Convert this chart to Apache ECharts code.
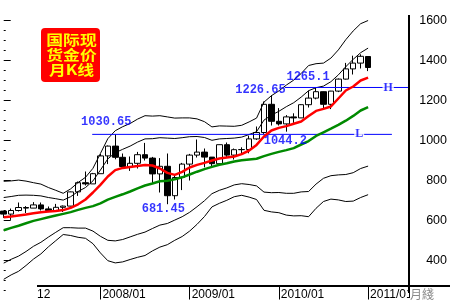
<!DOCTYPE html>
<html><head><meta charset="utf-8">
<script src="https://cdn.jsdelivr.net/npm/echarts@6/dist/echarts.min.js"></script>
<style>html,body{margin:0;padding:0;background:#fff}#c{width:450px;height:300px}</style>
</head><body><div id="c"></div>
<script>
// month categories 2006/12 .. 2011/06 (data 2006/12 .. 2011/01)
const months = [];
(function(){let y=2006,m=12;for(let k=0;k<55;k++){months.push(y+'/'+(m<10?'0'+m:m));m++;if(m>12){m=1;y++;}}})();
const xTickLabels = ['2008/01','2009/01','2010/01','2011/01'];

const open  = [647,632,650,665,662,678,658,650,666,672,743,789,783,834,923,972,916,870,886,929,912,833,871,724,815,882,927,942,917,884,979,927,954,955,1008,1040,1181,1096,1083,1118,1113,1179,1212,1244,1181,1247,1307,1358,1387,1420];
const close = [632,650,665,662,678,658,650,666,672,743,789,783,834,923,972,916,870,886,929,912,833,871,724,815,882,927,942,917,884,979,927,954,955,1008,1040,1181,1096,1083,1118,1113,1179,1212,1244,1181,1247,1307,1358,1387,1421,1365];
const high  = [648,660,690,672,692,690,670,683,675,745,795,845,838,933,975,1030.65,935,920,943,988,918,912,935,830,888,933,1005,960,917,980,990,960,966,1024,1070,1195,1226.65,1162,1127,1136,1181,1249,1265.1,1245,1248,1310,1388,1424,1431,1421];
const low   = [613,603,645,637,662,650,642,648,642,670,723,775,783,834,882,906,863,848,860,900,786,740,681.45,705,752,800,915,866,865,880,914,905,931,936,1003,1033,1075,1075,1044.2,1088,1113,1165,1206,1155,1157,1242,1305,1330,1360,1347];

const maRed   = [616,620,625,630,636,641,645,648,652,663,681,705,740,778,820,852,863,868,872,877,875,860,838,828,843,865,878,888,900,910,915,920,932,950,978,1020,1050,1063,1072,1084,1095,1122,1148,1158,1170,1210,1250,1270,1300,1314];
const maGreen = [551,563,574,586,598,607,616,625,633,642,653,663,672,686,704,718,731,745,761,775,785,796,799,806,816,830,844,857,868,879,886,895,901,905,909,922,933,943,952,962,980,997,1023,1041,1059,1078,1099,1123,1150,1167];
const bandUp3  = [796,798,802,797,789,782,765,751,736,758,790,816,861,935,1009,1049,1069,1085,1107,1124,1122,1124,1118,1112,1113,1113,1108,1094,1068,1073,1072,1071,1076,1093,1112,1192,1224,1248,1277,1302,1335,1375,1384,1387,1412,1453,1504,1548,1584,1600];
const bandUp2  = [715,720,726,727,726,723,715,709,702,719,745,765,798,852,908,939,956,972,992,1008,1009,1014,1012,1010,1014,1019,1020,1015,1001,1008,1010,1012,1017,1030,1044,1102,1127,1146,1169,1189,1217,1249,1264,1272,1294,1328,1369,1406,1439,1462];
const bandLow2 = [387,406,422,445,471,491,517,541,564,564,562,562,547,521,501,498,505,518,531,542,560,577,585,602,619,641,669,699,734,751,763,778,784,780,773,742,739,740,736,736,743,745,782,811,824,828,830,839,860,872];
const bandLow3 = [306,328,346,375,407,433,468,499,530,525,516,511,484,438,399,388,393,405,416,425,448,467,479,501,520,547,581,620,668,686,701,719,726,717,705,651,643,639,627,623,624,619,661,695,707,703,695,697,715,729];

// extreme labels: [month index, value, text, dx, dy]
const peakLabels = [
  [15, 1030.65, '1030.65', -9, -12],
  [22, 681.45, '681.45', -4, 5],
  [36, 1226.65, '1226.65', -11, -5],
  [42, 1265.1, '1265.1', -8, -10],
  [38, 1044.2, '1044.2', -1, 9]
];
// horizontal levels: [value, startPos, endPos, letter, letterPos]  (positions in month-index units)
const levels = [
  [1265.1, 37.8, 56.0, 'H', 51.7],
  [1030.65, 11.9, 52.2, 'L', 47.8]
];

const chart = echarts.init(document.getElementById('c'), null, {renderer:'canvas', width:450, height:300});
const tickFn = (i) => xTickLabels.indexOf(months[i]) >= 0;
const lineS = (data, color, width, z) => ({type:'line', data, symbol:'none', clip:false, silent:true, z,
  lineStyle:{color, width}, emphasis:{disabled:true}});

const series = [
  {type:'candlestick', data: open.map((o,i)=>[o, close[i], low[i], high[i]]), barWidth:6, z:2, silent:true,
   itemStyle:{color:'#fff', color0:'#000', borderColor:'#000', borderColor0:'#000', borderWidth:1}},
  lineS(bandUp3,'#000',1,3), lineS(bandUp2,'#000',1,3), lineS(bandLow2,'#000',1,3), lineS(bandLow3,'#000',1,3),
  lineS(maGreen,'#008a00',2.5,4), lineS(maRed,'#ff0000',2.5,5)
];
levels.forEach(l => {
  series.push({type:'line', xAxisIndex:1, data:[[l[1], l[0]], [l[2], l[0]]], symbol:'none', clip:false, silent:true, z:3,
    lineStyle:{color:'#0000ff', width:1}});
});
series.push({type:'scatter', xAxisIndex:1, silent:true, z:6, symbolSize:1, itemStyle:{color:'rgba(0,0,0,0)'},
  data: levels.map(l => ({value:[l[4], l[0]], name:l[3]})),
  label:{show:true, position:'inside', formatter:p=>p.name, color:'#0000ff', fontWeight:'bold',
    fontFamily:'Liberation Serif', fontSize:12, backgroundColor:'#fff', padding:[0,1]}});
series.push({type:'scatter', xAxisIndex:0, silent:true, z:6, symbolSize:1, itemStyle:{color:'rgba(0,0,0,0)'},
  data: peakLabels.map(p => ({value:[p[0], p[1]], name:p[2], label:{offset:[p[3], p[4]]}})),
  label:{show:true, position:'inside', formatter:p=>p.name, color:'#0000ff', fontWeight:'bold',
    fontFamily:'Liberation Mono', fontSize:12}});

chart.setOption({
  animation:false,
  backgroundColor:'#fff',
  grid:{left:0, right:41, top:20.5, bottom:-0.5, containLabel:false, outerBoundsMode:'none'},
  xAxis:[
    {type:'category', data:months, boundaryGap:true, offset:-15,
     axisLine:{show:false},
     axisTick:{show:true, alignWithLabel:true, interval:tickFn, length:14, lineStyle:{color:'#000', width:1}},
     axisLabel:{show:true, interval:tickFn, align:'left', margin:3, padding:[0,0,0,2], color:'#000',
       fontSize:12, fontFamily:'Liberation Sans'},
     splitLine:{show:false}},
    {type:'value', min:-0.5, max:54.5, show:false}
  ],
  yAxis:{type:'value', position:'right', min:200, max:1600, interval:200,
    axisLine:{show:false},
    axisTick:{show:true, length:7, lineStyle:{color:'#000', width:1}},
    minorTick:{show:true, splitNumber:4, length:2, lineStyle:{color:'#000', width:1}},
    axisLabel:{showMinLabel:false, align:'right', margin:38, color:'#000', fontSize:12.5, fontFamily:'Liberation Sans',
      formatter:(v)=>String(v)},
    splitLine:{show:false}, minorSplitLine:{show:false}},
  series,
  graphic:[
    {type:'line', z:100, shape:{x1:409, y1:15, x2:409, y2:293}, style:{stroke:'#000', lineWidth:2}},
    {type:'line', z:100, shape:{x1:37, y1:286, x2:450, y2:286}, style:{stroke:'#000', lineWidth:2}},
    {type:'text', z:100, x:37, y:289, style:{text:'12', fill:'#000', font:'12px "Liberation Sans"'}},
    {type:'text', z:100, x:410, y:288, style:{text:'月綫', fill:'#8a8a8a', font:'12px "Noto Sans CJK TC"', backgroundColor:'#fff', padding:[0,4,0,0]}},
    {type:'rect', z:100, shape:{x:41, y:28, width:59, height:54, r:4}, style:{fill:'#ff0000'}},
    {type:'text', z:101, x:71.5, y:55, scaleX:1.2, style:{text:'国际现\n货金价\n月K线', fill:'#ffff00', align:'center', verticalAlign:'middle',
      font:'bold 14px "Noto Sans CJK SC"', lineHeight:15}}
  ]
});
</script></body></html>
